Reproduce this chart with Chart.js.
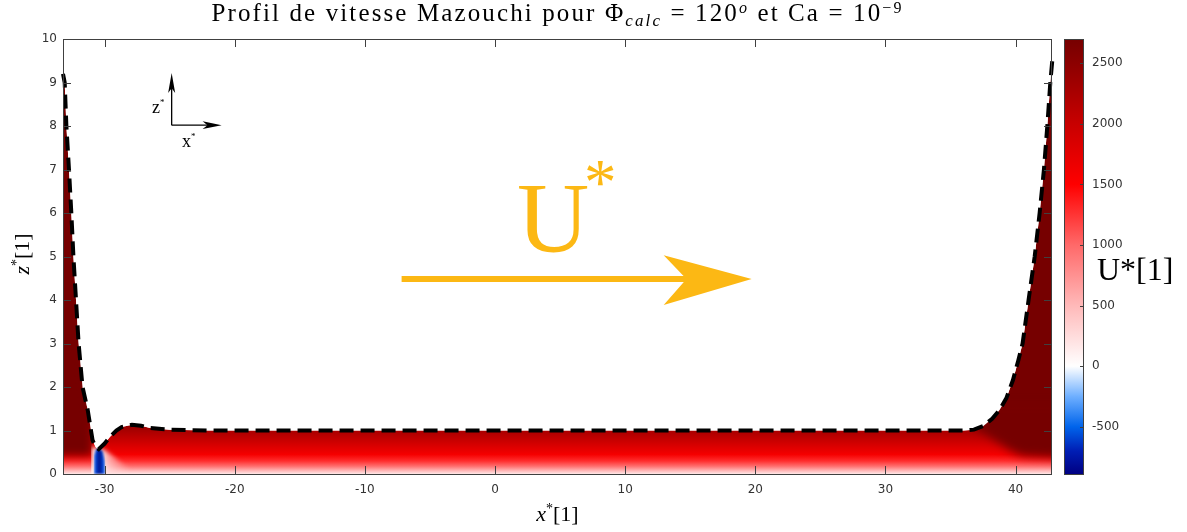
<!DOCTYPE html>
<html><head><meta charset="utf-8">
<script src="https://cdn.jsdelivr.net/npm/chart.js@4.4.1/dist/chart.umd.min.js"></script>
<style>
html,body{margin:0;padding:0;background:#fff;}
#wrap{position:relative;width:1187px;height:532px;overflow:hidden;background:#fff;}
canvas{position:absolute;top:0;}
.t{position:absolute;font-family:"Liberation Serif","Times New Roman",serif;color:#000;white-space:nowrap;line-height:1;}
.sub{font-size:17px;font-style:italic;position:relative;top:5px;}
.sup{font-size:16px;position:relative;top:-8px;}
.sup2{font-size:14px;position:relative;top:-8px;}
</style></head><body>
<div id="wrap">
<canvas id="main" width="1187" height="532" style="left:0"></canvas>
<canvas id="cbar" width="60" height="532" style="left:1064px"></canvas>
<div class="t" style="left:0;width:1115px;text-align:center;top:0px;font-size:25px;"><span id="title" data-fit="692">Profil de vitesse Mazouchi pour Φ<span class="sub">calc</span> = 120<span class="sup"><i>o</i></span> et Ca = 10<span class="sup">−9</span></span></div>
<div class="t" style="left:0;width:1115px;text-align:center;top:503px;font-size:22px;"><i>x</i><span class="sup2">*</span>[1]</div>
<div class="t" style="left:-28px;top:243px;width:100px;text-align:center;font-size:22px;transform:rotate(-90deg);"><i>z</i><span class="sup2">*</span>[1]</div>
<div class="t" style="left:517px;top:168px;font-size:100px;color:#FCB814">U</div>
<div class="t" style="left:584px;top:150px;font-size:65px;color:#FCB814">*</div>
<div class="t" style="left:1097px;top:253px;font-size:32px;">U*[1]</div>
<div class="t" style="left:152px;top:98px;font-size:18px;">z<span style="font-size:9px;position:relative;top:-8px">*</span></div>
<div class="t" style="left:182px;top:132px;font-size:18px;">x<span style="font-size:9px;position:relative;top:-8px">*</span></div>
</div>
<script>
// ---------- data ----------
const xRange = [-33.2, 42.8];
const zRange = [0, 10];
const xTicks = [-30, -20, -10, 0, 10, 20, 30, 40];
const zTicks = [0, 1, 2, 3, 4, 5, 6, 7, 8, 9, 10];
const cbRange = [-890, 2700];
const cbTicks = [-500, 0, 500, 1000, 1500, 2000, 2500];

// interface (dashed line)
const interfaceX = [-33.2, -33.07, -32.94, -32.74, -32.56, -32.4, -32.2, -32.0, -31.7, -31.3, -30.93, -30.7, -30.46, -30.0, -29.6, -29.1, -28.7, -27.9, -27.2, -26.5, -25.0, -22.0, 0, 20, 36.0, 36.8, 37.5, 38.2, 38.77, 39.3, 39.8, 40.2, 40.54, 41.0, 41.47, 41.85, 42.18, 42.44, 42.67, 42.85];
const interfaceZ = [9.2, 9.0, 8.0, 7.0, 6.0, 5.0, 4.0, 3.0, 2.0, 1.47, 0.78, 0.62, 0.57, 0.7, 0.85, 1.0, 1.08, 1.13, 1.11, 1.06, 1.02, 1.0, 1.0, 1.0, 1.0, 1.02, 1.1, 1.27, 1.47, 1.75, 2.16, 2.6, 3.0, 4.0, 5.0, 6.0, 7.0, 8.0, 9.0, 9.6];

// velocity field regions (U* levels)
const leftWedgeX = [-34, -31.9, -31.2, -30.95];
const leftWedgeZ = [3, 3, 1.5, 0.9];
const rightWedgeX = [36.0, 37.3, 38.0, 38.8, 39.6, 40.5, 42.8, 44];
const rightWedgeTopZ = [1.6, 1.6, 1.6, 1.6, 1.6, 1.6, 1.6, 1.6];
const rightWedgeBotZ = [1.3, 1.0, 0.86, 0.7, 0.54, 0.42, 0.38, 0.38];
const stagnationX = [-31.05, -31.0, -30.6, -30.0, -29.5, -28.5, -27.0];
const stagnationZ = [0, 0.62, 0.6, 0.55, 0.45, 0.22, 0];
const backflowX = [-30.85, -30.82, -30.65, -30.42, -30.15, -29.98, -29.95];
const backflowZ = [0, 0.42, 0.57, 0.6, 0.52, 0.3, 0];

// annotations
const uArrowX = [-7.18, 14.9];
const uArrowZ = [4.48, 4.48];
const uHeadX = [12.96, 19.72, 12.96, 14.71, 12.96];
const uHeadZ = [5.03, 4.48, 3.885, 4.48, 5.03];
const iconZX = [-24.85, -24.85];
const iconZZ = [8.02, 8.9];
const iconXX = [-24.85, -22.0];
const iconXZ = [8.02, 8.02];
const iconZHeadX = [-25.12, -24.85, -24.58, -24.85, -25.12];
const iconZHeadZ = [8.76, 9.22, 8.76, 8.87, 8.76];
const iconXHeadX = [-22.47, -21.01, -22.47, -22.1, -22.47];
const iconXHeadZ = [8.11, 8.02, 7.93, 8.02, 8.11];

// colour map (U* value -> colour)
const cmapV = [-890, -700, -500, -250, 0, 250, 500, 1000, 1500, 2000, 2500, 2700];
const cmapC = ['rgb(0,0,130)', 'rgb(0,30,180)', 'rgb(0,100,235)', 'rgb(110,175,255)', 'rgb(255,255,255)', 'rgb(255,220,220)', 'rgb(255,185,185)', 'rgb(255,105,105)', 'rgb(255,0,0)', 'rgb(200,0,0)', 'rgb(140,0,0)', 'rgb(118,0,0)'];
// film colour vs height
const filmZ = [0, 0.08, 0.18, 0.3, 0.45, 0.7, 1.0, 1.25, 1.6];
const filmC = ['rgb(255,232,232)', 'rgb(255,180,180)', 'rgb(255,110,110)', 'rgb(255,45,45)', 'rgb(245,0,0)', 'rgb(210,0,0)', 'rgb(168,0,0)', 'rgb(130,0,0)', 'rgb(118,0,0)'];

const GOLD = '#FCB814';
const DARK = 'rgb(118,0,0)';
const pts = (xs, zs) => xs.map((x, i) => ({x: x, y: zs[i]}));

// fit title width
(function () {
  const el = document.getElementById('title');
  const target = +el.dataset.fit;
  const w = el.getBoundingClientRect().width;
  const n = el.textContent.length;
  el.style.letterSpacing = ((target - w) / n).toFixed(2) + 'px';
})();

// ---------- helpers ----------
function vGrad(chart, vals, cols, scaleId) {
  const {ctx, chartArea} = chart;
  if (!chartArea) return 'rgba(0,0,0,0)';
  const s = chart.scales[scaleId || 'y'];
  const p0 = s.getPixelForValue(vals[0]), p1 = s.getPixelForValue(vals[vals.length - 1]);
  const g = ctx.createLinearGradient(0, p0, 0, p1);
  vals.forEach((v, i) => g.addColorStop((v - vals[0]) / (vals[vals.length - 1] - vals[0]), cols[i]));
  return g;
}
function hGrad(chart, vals, cols) {
  const {ctx, chartArea} = chart;
  if (!chartArea) return 'rgba(0,0,0,0)';
  const s = chart.scales.x;
  const p0 = s.getPixelForValue(vals[0]), p1 = s.getPixelForValue(vals[vals.length - 1]);
  const g = ctx.createLinearGradient(p0, 0, p1, 0);
  vals.forEach((v, i) => g.addColorStop((v - vals[0]) / (vals[vals.length - 1] - vals[0]), cols[i]));
  return g;
}

// soft-edge plugin (must run before filler)
const blurPlugin = {
  id: 'softEdge',
  beforeDatasetDraw(chart, args) {
    const ds = chart.data.datasets[args.index];
    if (ds && ds.blur) { chart.ctx.save(); chart.ctx.filter = 'blur(' + ds.blur + 'px)'; }
  },
  afterDatasetDraw(chart, args) {
    const ds = chart.data.datasets[args.index];
    if (ds && ds.blur) chart.ctx.restore();
  }
};
try {
  const filler = Chart.registry.getPlugin('filler');
  Chart.unregister(filler);
  Chart.register(blurPlugin);
  Chart.register(filler);
} catch (e) { Chart.register(blurPlugin); }

const AXC = '#404040';
const TXT = '#333333';
const tickFont = {family: '"DejaVu Sans", sans-serif', size: 12};

const frameTicks = {
  id: 'frameTicks',
  afterDraw(chart) {
    const {ctx, chartArea: a, scales: {x, y}} = chart;
    ctx.save();
    ctx.strokeStyle = AXC; ctx.lineWidth = 1;
    ctx.beginPath();
    xTicks.forEach(v => {
      const px = Math.round(x.getPixelForValue(v)) + 0.5;
      ctx.moveTo(px, a.bottom); ctx.lineTo(px, a.bottom - 8);
      ctx.moveTo(px, a.top); ctx.lineTo(px, a.top + 8);
    });
    zTicks.forEach(v => {
      const py = Math.round(y.getPixelForValue(v)) + 0.5;
      ctx.moveTo(a.left, py); ctx.lineTo(a.left + 8, py);
      ctx.moveTo(a.right, py); ctx.lineTo(a.right - 8, py);
    });
    ctx.stroke();
    ctx.strokeRect(Math.round(a.left) + 0.5, Math.round(a.top) + 0.5, Math.round(a.right - a.left) - 1, Math.round(a.bottom - a.top));
    ctx.restore();
  }
};

const base = {pointRadius: 0, pointHoverRadius: 0, borderWidth: 0, fill: false, clip: 0};

new Chart(document.getElementById('main'), {
  type: 'line',
  data: {
    datasets: [
      Object.assign({}, base, {label: 'interface', data: pts(interfaceX, interfaceZ), borderColor: '#000', borderWidth: 4, borderDash: [14, 7], order: 1, clip: 3}),
      Object.assign({}, base, {label: 'U* arrow', data: pts(uArrowX, uArrowZ), borderColor: GOLD, borderWidth: 6, order: 2}),
      Object.assign({}, base, {label: 'U* head', data: pts(uHeadX, uHeadZ), backgroundColor: GOLD, fill: 'shape', order: 2}),
      Object.assign({}, base, {label: 'z axis', data: pts(iconZX, iconZZ), borderColor: '#000', borderWidth: 1.3, order: 3}),
      Object.assign({}, base, {label: 'x axis', data: pts(iconXX, iconXZ), borderColor: '#000', borderWidth: 1.3, order: 3}),
      Object.assign({}, base, {label: 'z head', data: pts(iconZHeadX, iconZHeadZ), backgroundColor: '#000', fill: 'shape', order: 3}),
      Object.assign({}, base, {label: 'x head', data: pts(iconXHeadX, iconXHeadZ), backgroundColor: '#000', fill: 'shape', order: 3}),
      Object.assign({}, base, {label: 'gas', data: pts(interfaceX, interfaceZ), backgroundColor: '#fff', fill: 'end', order: 4}),
      Object.assign({}, base, {label: 'backflow', data: pts(backflowX, backflowZ), fill: 'origin', order: 5, blur: 1,
        backgroundColor: c => hGrad(c.chart, [-30.85, -30.65, -30.4, -30.15, -29.95], ['rgb(80,150,255)', 'rgb(0,60,205)', 'rgb(0,20,140)', 'rgb(0,60,205)', 'rgb(80,150,255)'])}),
      Object.assign({}, base, {label: 'stagnation', data: pts(stagnationX, stagnationZ), fill: 'origin', order: 6, blur: 2,
        backgroundColor: c => hGrad(c.chart, [-31.1, -30.97, -30.3, -29.7, -28.0], ['rgba(255,255,255,0)', 'rgba(255,255,255,0.95)', 'rgba(255,250,250,0.95)', 'rgba(255,230,230,0.7)', 'rgba(255,220,220,0)'])}),
      Object.assign({}, base, {label: 'right wedge', data: pts(rightWedgeX, rightWedgeTopZ), backgroundColor: DARK, fill: '+1', order: 7, blur: 5}),
      Object.assign({}, base, {label: 'right wedge low', data: pts(rightWedgeX, rightWedgeBotZ), order: 7}),
      Object.assign({}, base, {label: 'left wedge', data: pts(leftWedgeX, leftWedgeZ), backgroundColor: DARK, fill: {value: 0.42}, order: 8, blur: 4}),
      Object.assign({}, base, {label: 'film', data: pts(interfaceX, interfaceZ), fill: 'origin', order: 10,
        backgroundColor: c => vGrad(c.chart, filmZ, filmC)})
    ]
  },
  options: {
    responsive: false, animation: false, events: [],
    layout: {padding: {top: 39, right: 135, left: 0, bottom: 0}},
    plugins: {legend: {display: false}, tooltip: {enabled: false}, title: {display: false}},
    scales: {
      x: {type: 'linear', position: 'bottom', min: xRange[0], max: xRange[1],
        afterBuildTicks: s => { s.ticks = xTicks.map(v => ({value: v})); },
        afterFit: s => { s.height = 58; },
        grid: {display: false, drawTicks: false, tickLength: 0}, border: {display: false},
        ticks: {autoSkip: false, maxRotation: 0, padding: 9, font: tickFont, color: TXT, callback: v => String(v)}},
      y: {type: 'linear', position: 'left', min: zRange[0], max: zRange[1],
        afterBuildTicks: s => { s.ticks = zTicks.map(v => ({value: v})); },
        afterFit: s => { s.width = 63; },
        grid: {display: false, drawTicks: false, tickLength: 0}, border: {display: false},
        ticks: {autoSkip: false, padding: 6, font: tickFont, color: TXT, callback: v => String(v)}}
    }
  },
  plugins: [frameTicks]
});

const cbTicksPlugin = {
  id: 'cbTicks',
  afterDraw(chart) {
    const {ctx, chartArea: a, scales: {y}} = chart;
    ctx.save(); ctx.strokeStyle = AXC; ctx.lineWidth = 1; ctx.beginPath();
    cbTicks.forEach(v => {
      const py = Math.round(y.getPixelForValue(v)) + 0.5;
      ctx.moveTo(a.right, py); ctx.lineTo(a.right - 4, py);
    });
    ctx.stroke();
    ctx.strokeRect(Math.round(a.left) + 0.5, Math.round(a.top) + 0.5, Math.round(a.right - a.left) - 1, Math.round(a.bottom - a.top));
    ctx.restore();
  }
};

new Chart(document.getElementById('cbar'), {
  type: 'bar',
  data: {labels: ['U*'], datasets: [{data: [cbRange], borderWidth: 0, barPercentage: 1, categoryPercentage: 1,
    backgroundColor: c => vGrad(c.chart, cmapV, cmapC)}]},
  options: {
    responsive: false, animation: false, events: [],
    layout: {padding: {top: 39, bottom: 58, left: 0, right: 0}},
    plugins: {legend: {display: false}, tooltip: {enabled: false}},
    scales: {
      x: {display: false},
      y: {position: 'right', min: cbRange[0], max: cbRange[1],
        afterBuildTicks: s => { s.ticks = cbTicks.map(v => ({value: v})); },
        afterFit: s => { s.width = 40; },
        grid: {display: false, drawTicks: false, tickLength: 0}, border: {display: false},
        ticks: {autoSkip: false, padding: 8, font: tickFont, color: TXT, callback: v => String(v)}}
    }
  },
  plugins: [cbTicksPlugin]
});
</script>
</body></html>
